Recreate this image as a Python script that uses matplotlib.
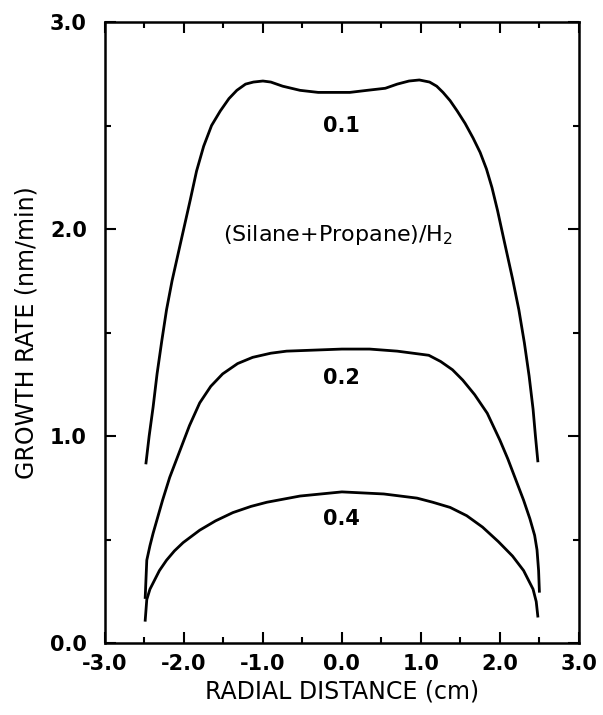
import matplotlib.pyplot as plt
from matplotlib.ticker import MultipleLocator

plt.rcParams['font.family'] = ['DejaVu Sans']

# growth rate profiles, (silane+propane)/H2 = 0.1, 0.2, 0.4
x_01 = [-2.48, -2.44, -2.39, -2.34, -2.28, -2.22, -2.15, -2.05, -1.92, -1.84,
        -1.75, -1.65, -1.54, -1.43, -1.33, -1.22, -1.12, -1.00, -0.90, -0.75,
        -0.53, -0.30, -0.11, 0.10, 0.32, 0.55, 0.70, 0.85, 0.98, 1.11,
        1.20, 1.28, 1.37, 1.46, 1.56, 1.66, 1.75, 1.83, 1.90, 1.97,
        2.05, 2.16, 2.24, 2.31, 2.37, 2.42, 2.45, 2.48]
y_01 = [0.87, 1.00, 1.14, 1.30, 1.46, 1.61, 1.75, 1.92, 2.14, 2.28,
        2.40, 2.50, 2.57, 2.63, 2.67, 2.70, 2.71, 2.715, 2.71, 2.69,
        2.67, 2.66, 2.66, 2.66, 2.67, 2.68, 2.70, 2.715, 2.72, 2.71,
        2.69, 2.66, 2.62, 2.57, 2.51, 2.44, 2.37, 2.29, 2.20, 2.09,
        1.95, 1.76, 1.61, 1.45, 1.29, 1.13, 1.00, 0.88]

x_02 = [-2.49, -2.48, -2.47, -2.43, -2.39, -2.33, -2.27, -2.18, -2.05, -1.93,
        -1.80, -1.66, -1.51, -1.32, -1.13, -0.90, -0.70, -0.35, 0.0, 0.35,
        0.70, 0.90, 1.10, 1.25, 1.40, 1.53, 1.68, 1.84, 2.00, 2.10,
        2.22, 2.30, 2.38, 2.44, 2.47, 2.49, 2.50]
y_02 = [0.22, 0.31, 0.40, 0.47, 0.53, 0.61, 0.69, 0.80, 0.93, 1.05,
        1.16, 1.24, 1.30, 1.35, 1.38, 1.40, 1.41, 1.415, 1.42, 1.42,
        1.41, 1.40, 1.39, 1.36, 1.32, 1.27, 1.20, 1.11, 0.98, 0.89,
        0.77, 0.69, 0.60, 0.52, 0.45, 0.35, 0.25]

x_04 = [-2.49, -2.48, -2.47, -2.43, -2.39, -2.31, -2.22, -2.12, -2.01, -1.80,
        -1.60, -1.38, -1.15, -0.95, -0.53, 0.0, 0.53, 0.95, 1.15, 1.37,
        1.58, 1.78, 1.98, 2.16, 2.30, 2.38, 2.42, 2.46, 2.48]
y_04 = [0.11, 0.16, 0.21, 0.26, 0.29, 0.35, 0.40, 0.445, 0.485, 0.545,
        0.59, 0.63, 0.66, 0.68, 0.71, 0.73, 0.72, 0.70, 0.68, 0.655,
        0.615, 0.56, 0.49, 0.42, 0.35, 0.29, 0.26, 0.20, 0.13]

fig = plt.figure(figsize=(6.03, 7.15), dpi=100)
ax = fig.add_axes([0.174, 0.1007, 0.786, 0.8685])

for xs, ys in [(x_01, y_01), (x_02, y_02), (x_04, y_04)]:
    ax.plot(xs, ys, '-', color='black', lw=2.0, solid_joinstyle='round')

ax.text(0.0, 2.50, '0.1', ha='center', va='center', fontsize=15, fontweight='bold')
ax.text(0.0, 1.28, '0.2', ha='center', va='center', fontsize=15, fontweight='bold')
ax.text(0.0, 0.60, '0.4', ha='center', va='center', fontsize=15, fontweight='bold')
ax.text(-0.05, 1.97, '(Silane+Propane)/H$_2$', ha='center', va='center', fontsize=16)

ax.set_xlim(-3, 3)
ax.set_ylim(0, 3)
ax.xaxis.set_major_locator(MultipleLocator(1.0))
ax.xaxis.set_minor_locator(MultipleLocator(0.5))
ax.yaxis.set_major_locator(MultipleLocator(1.0))
ax.yaxis.set_minor_locator(MultipleLocator(0.5))
ax.xaxis.set_major_formatter(lambda v, p: '%.1f' % v)
ax.yaxis.set_major_formatter(lambda v, p: '%.1f' % v)
ax.tick_params(which='both', direction='in', top=True, right=True, width=1.5)
ax.tick_params(which='major', length=8, labelsize=15)
ax.tick_params(which='minor', length=4)
ax.tick_params(axis='x', which='major', pad=8)
ax.tick_params(axis='y', which='major', pad=13)
for lab in ax.get_xticklabels() + ax.get_yticklabels():
    lab.set_fontweight('bold')
for s in ax.spines.values():
    s.set_linewidth(1.8)

ax.set_xlabel('RADIAL DISTANCE (cm)', fontsize=17, labelpad=4)
ax.set_ylabel('GROWTH RATE (nm/min)', fontsize=17, labelpad=8)

plt.savefig('out.png', dpi=100)
